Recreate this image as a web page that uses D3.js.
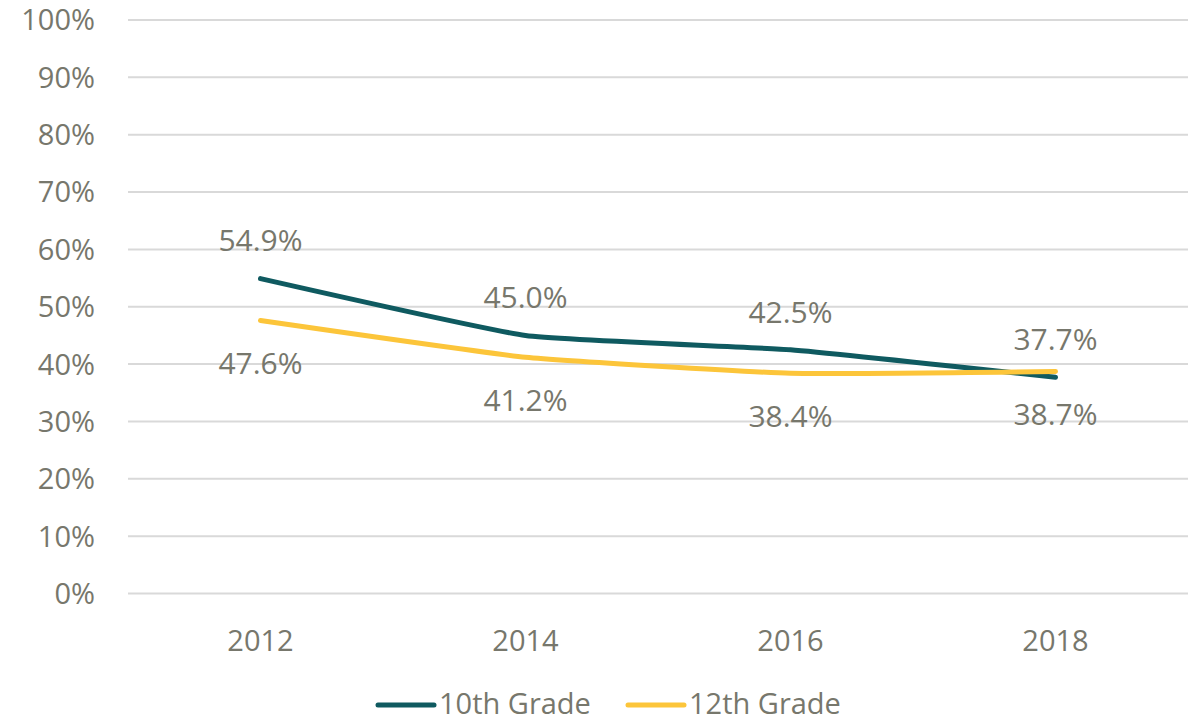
<!DOCTYPE html>
<html>
<head>
<meta charset="utf-8">
<script src="https://cdn.jsdelivr.net/npm/d3@7"></script>
<style>
  body { margin: 0; background: #fff; }
  text { font-family: "Open Sans", sans-serif; fill: #77776c; }
</style>
</head>
<body>
<svg id="chart" width="1201" height="721"></svg>
<script>
var years = ['2012', '2014', '2016', '2018'];
var grade10 = [54.9, 45.0, 42.5, 37.7];
var grade12 = [47.6, 41.2, 38.4, 38.7];
var yTicks = [0, 10, 20, 30, 40, 50, 60, 70, 80, 90, 100];

var series = [
  { name: '10th Grade', values: grade10, color: '#0f5a60', above: true },
  { name: '12th Grade', values: grade12, color: '#fcc53a', above: false }
];

var margin = { top: 20, right: 13, bottom: 127.5, left: 128 },
  width = 1201 - margin.left - margin.right,
  height = 721 - margin.top - margin.bottom;

var svg = d3.select('#chart')
  .append('g').attr('transform', 'translate(' + margin.left + ',' + margin.top + ')');

var x = d3.scaleBand().domain(years).range([0, width]);
var y = d3.scaleLinear().domain([0, 100]).range([height, 0]);

// gridlines
svg.selectAll('.grid')
  .data(yTicks)
  .enter()
  .append('line')
  .attr('x1', 0)
  .attr('x2', width)
  .attr('y1', d => y(d))
  .attr('y2', d => y(d))
  .style('stroke', '#d9d9d9')
  .style('stroke-width', 2);

// y labels
svg.selectAll('.ylab')
  .data(yTicks)
  .enter()
  .append('text')
  .attr('x', -33)
  .attr('y', d => y(d))
  .attr('dy', '0.36em')
  .attr('text-anchor', 'end')
  .style('font-size', '29px')
  .text(d => d + '%');

// x labels
svg.selectAll('.xlab')
  .data(years)
  .enter()
  .append('text')
  .attr('x', d => x(d) + x.bandwidth() / 2)
  .attr('y', height + 47)
  .attr('dy', '0.36em')
  .attr('text-anchor', 'middle')
  .style('font-size', '29px')
  .text(d => d);

var line = d3.line()
  .x((d, i) => x(years[i]) + x.bandwidth() / 2)
  .y(d => y(d))
  .curve(d3.curveCardinal.tension(0.6));

series.forEach(function (s) {
  svg.append('path')
    .datum(s.values)
    .attr('d', line)
    .style('fill', 'none')
    .style('stroke', s.color)
    .style('stroke-width', 5)
    .style('stroke-linecap', 'round')
    .style('stroke-linejoin', 'round');

  svg.selectAll('.lab')
    .data(s.values)
    .enter()
    .append('text')
    .attr('x', (d, i) => x(years[i]) + x.bandwidth() / 2)
    .attr('y', d => y(d) + (s.above ? -38 : 43))
    .attr('dy', '0.36em')
    .attr('text-anchor', 'middle')
    .style('font-size', '30px')
    .text(d => d.toFixed(1) + '%');
});

// legend
var legend = d3.select('#chart').append('g');
var legendX = [378, 628];
series.forEach(function (s, i) {
  legend.append('line')
    .attr('x1', legendX[i])
    .attr('x2', legendX[i] + 56)
    .attr('y1', 705)
    .attr('y2', 705)
    .style('stroke', s.color)
    .style('stroke-width', 5)
    .style('stroke-linecap', 'round');
  legend.append('text')
    .attr('x', legendX[i] + 61)
    .attr('y', 704)
    .attr('dy', '0.36em')
    .style('font-size', '29px')
    .text(s.name);
});
</script>
</body>
</html>
